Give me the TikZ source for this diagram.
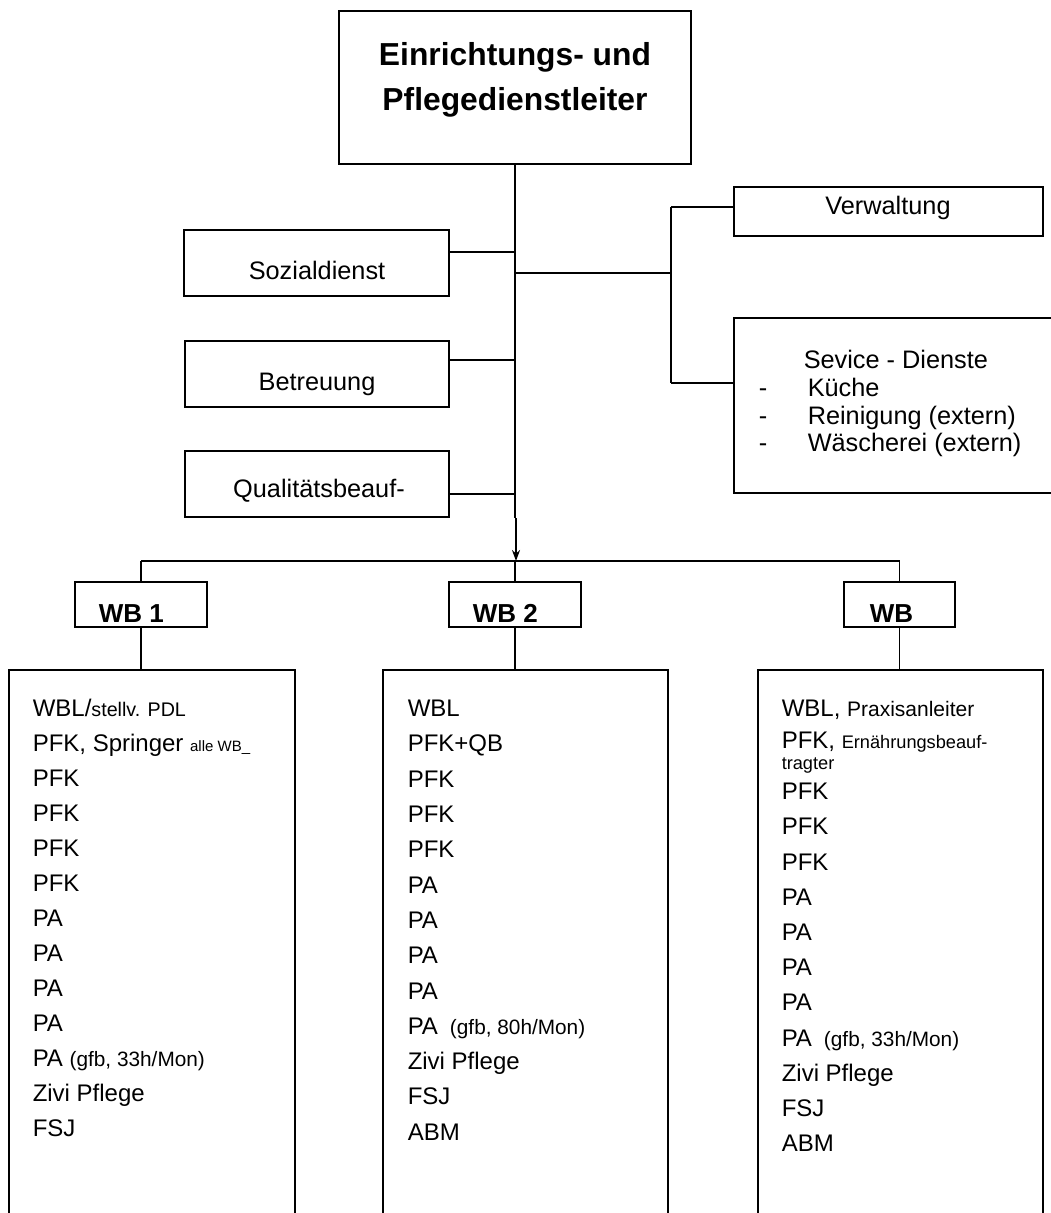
\documentclass[tikz,border=0pt]{standalone}
\usepackage{fontspec}
\setmainfont{Liberation Sans}
\usetikzlibrary{arrows.meta}
\newcommand{\szTitle}{\fontsize{31.8}{45}\selectfont\bfseries}
\newcommand{\szBox}{\fontsize{25.3}{30}\selectfont}
\newcommand{\szWB}{\fontsize{26}{30}\selectfont\bfseries}
\newcommand{\szList}{\fontsize{24}{28}\selectfont}
\newcommand{\szGfb}{\fontsize{20.8}{24}\selectfont}
\newcommand{\szStell}{\fontsize{19.7}{24}\selectfont}
\newcommand{\szAlle}{\fontsize{15}{18}\selectfont}
\newcommand{\szPrax}{\fontsize{21}{24}\selectfont}
\newcommand{\szErn}{\fontsize{18.2}{22}\selectfont}
\begin{document}
\begin{tikzpicture}[x=1pt,y=-1pt,line width=1.5pt,
  box/.style={draw,inner sep=0pt,outer sep=0pt},
  ctxt/.style={inner sep=0pt,anchor=base,font=\szBox},
  ltxt/.style={inner sep=0pt,anchor=base west,font=\szList},
  stxt/.style={inner sep=0pt,anchor=base west,font=\szBox},
  wbtxt/.style={inner sep=0pt,anchor=base west,font=\szWB}]
\useasboundingbox (0,0) rectangle (1051,1213);
\clip (0,0) rectangle (1051,1213);

% boxes
\node[box,minimum width=352pt,minimum height=153pt] (top) at (515,87.5) {};
\node[box,minimum width=265pt,minimum height=66pt] (soz) at (316.5,263) {};
\node[box,minimum width=264pt,minimum height=66pt] (betr) at (317,374) {};
\node[box,minimum width=264pt,minimum height=66pt] (qual) at (317,484) {};
\node[box,minimum width=309pt,minimum height=49pt] (verw) at (888.5,211.5) {};
\node[box,minimum width=336pt,minimum height=175pt] (serv) at (902,405.5) {};
\node[box,minimum width=132pt,minimum height=45pt] (wb1) at (141,604.5) {};
\node[box,minimum width=132pt,minimum height=45pt] (wb2) at (515,604.5) {};
\node[box,minimum width=111pt,minimum height=45pt] (wb3) at (899.5,604.5) {};
\node[box,minimum width=286pt,minimum height=600pt] (list1) at (152,970) {};
\node[box,minimum width=285pt,minimum height=600pt] (list2) at (525.5,970) {};
\node[box,minimum width=285pt,minimum height=600pt] (list3) at (900.5,970) {};

% junction coordinates
\coordinate (js) at (515,252);
\coordinate (jr) at (515,273);
\coordinate (jb) at (515,360);
\coordinate (jq) at (515,494);
\coordinate (ja) at (516,518);
\coordinate (bus) at (516,561);
\coordinate (rv1) at (671,207);
\coordinate (rv2) at (671,383);

% connectors
\draw (top.south) -- (ja -| top.south);
\draw[line width=1.8pt,-{Stealth[length=11pt,width=8pt]}] (ja) -- (bus);
\draw (soz.east |- js) -- (js);
\draw (betr.east |- jb) -- (jb);
\draw (qual.east |- jq) -- (jq);
\draw (jr) -- (jr -| rv1);
\draw (rv1) -- (rv2);
\draw (rv1) -- (verw.west |- rv1);
\draw (rv2) -- (serv.west |- rv2);
\draw (wb1.north |- bus) -- (wb3.north |- bus);
\draw (wb1.north |- bus) -- (wb1.north);
\draw (wb2.north |- bus) -- (wb2.north);
\draw (wb3.north |- bus) -- (wb3.north);
\draw (wb1.south) -- (wb1.south |- list1.north);
\draw (wb2.south) -- (wb2.south |- list2.north);
\draw (wb3.south) -- (wb3.south |- list3.north);

% texts top part
\node[inner sep=0pt,anchor=base,font=\szTitle] (t1) at (515,65.5) {Einrichtungs- und};
\node[inner sep=0pt,anchor=base,font=\szTitle] (t2) at (515,110.5) {Pflegedienstleiter};
\node[ctxt] (tsoz) at (317,279) {Sozialdienst};
\node[ctxt] (tbetr) at (317,390.8) {Betreuung};
\node[ctxt] (tqual) at (319,497) {Qualitätsbeauf-};
\node[ctxt] (tverw) at (888,214.5) {Verwaltung};
\node[stxt] (ts0) at (803,368) {Sevice - Dienste};
\node[stxt] (td1) at (758,396) {-};
\node[stxt] (ts1) at (807,396) {Küche};
\node[stxt] (td2) at (758,424) {-};
\node[stxt] (ts2) at (807,424) {Reinigung (extern)};
\node[stxt] (td3) at (758,451) {-};
\node[stxt] (ts3) at (807,451) {Wäscherei (extern)};
\node[wbtxt] (twb1) at (98,622) {WB 1};
\node[wbtxt] (twb2) at (472,622) {WB 2};
\node[wbtxt] (twb3) at (869,622) {WB};

% list 1
\node[ltxt] (a0) at (32,716.6) {WBL/{\szStell stellv. PDL}};
\node[ltxt] (a1) at (32,751.6) {PFK, Springer {\szAlle alle WB\_}};
\node[ltxt] (a2) at (32,786.6) {PFK};
\node[ltxt] (a3) at (32,821.6) {PFK};
\node[ltxt] (a4) at (32,856.6) {PFK};
\node[ltxt] (a5) at (32,891.6) {PFK};
\node[ltxt] (a6) at (32,926.6) {PA};
\node[ltxt] (a7) at (32,961.6) {PA};
\node[ltxt] (a8) at (32,996.6) {PA};
\node[ltxt] (a9) at (32,1031.6) {PA};
\node[ltxt] (a10) at (32,1066.6) {PA {\szGfb (gfb, 33h/Mon)}};
\node[ltxt] (a11) at (32,1101.6) {Zivi Pflege};
\node[ltxt] (a12) at (32,1136.6) {FSJ};

% list 2
\node[ltxt] (b0) at (407,716.6) {WBL};
\node[ltxt] (b1) at (407,751.9) {PFK+QB};
\node[ltxt] (b2) at (407,787.2) {PFK};
\node[ltxt] (b3) at (407,822.5) {PFK};
\node[ltxt] (b4) at (407,857.8) {PFK};
\node[ltxt] (b5) at (407,893.1) {PA};
\node[ltxt] (b6) at (407,928.4) {PA};
\node[ltxt] (b7) at (407,963.7) {PA};
\node[ltxt] (b8) at (407,999.0) {PA};
\node[ltxt] (b9) at (407,1034.3) {PA\hspace{12pt}{\szGfb (gfb, 80h/Mon)}};
\node[ltxt] (b10) at (407,1069.6) {Zivi Pflege};
\node[ltxt] (b11) at (407,1104.9) {FSJ};
\node[ltxt] (b12) at (407,1140.2) {ABM};

% list 3
\node[ltxt] (c0) at (781,716.6) {WBL, {\szPrax Praxisanleiter}};
\node[ltxt] (c1) at (781,748.6) {PFK, {\szErn Ernährungsbeauf-}};
\node[ltxt] (c1b) at (781,769) {\szErn tragter};
\node[ltxt] (c2) at (781,799.6) {PFK};
\node[ltxt] (c3) at (781,834.8) {PFK};
\node[ltxt] (c4) at (781,870.0) {PFK};
\node[ltxt] (c5) at (781,905.2) {PA};
\node[ltxt] (c6) at (781,940.4) {PA};
\node[ltxt] (c7) at (781,975.6) {PA};
\node[ltxt] (c8) at (781,1010.8) {PA};
\node[ltxt] (c9) at (781,1046.0) {PA\hspace{12pt}{\szGfb (gfb, 33h/Mon)}};
\node[ltxt] (c10) at (781,1081.2) {Zivi Pflege};
\node[ltxt] (c11) at (781,1116.4) {FSJ};
\node[ltxt] (c12) at (781,1151.6) {ABM};
\end{tikzpicture}
\end{document}
